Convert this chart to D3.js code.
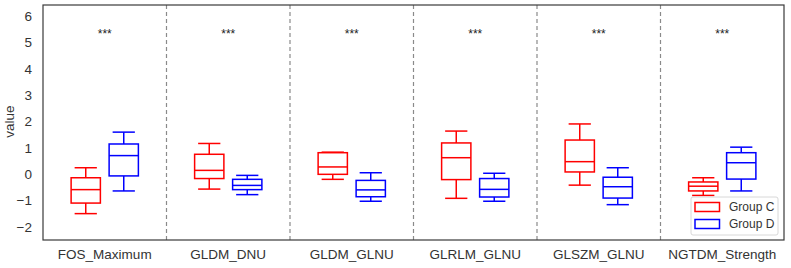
<!DOCTYPE html>
<html>
<head>
<meta charset="utf-8">
<script src="https://cdn.jsdelivr.net/npm/d3@7"></script>
<style>
    body { margin: 0; background: #fff; }
    text { font-family: "Liberation Sans", Arial, sans-serif; }
</style>
</head>
<body>
<div id="chart"></div>
<script>
var features = ['FOS_Maximum', 'GLDM_DNU', 'GLDM_GLNU', 'GLRLM_GLNU', 'GLSZM_GLNU', 'NGTDM_Strength'];
var groups = ['Group C', 'Group D'];
var groupColors = ['#ff0000', '#0000ff'];

// [whisker low, Q1, median, Q3, whisker high]
var groupC = [
    [-1.49, -1.09, -0.58, -0.13, 0.25],
    [-0.56, -0.16, 0.15, 0.76, 1.17],
    [-0.19, 0.00, 0.28, 0.82, 0.84],
    [-0.91, -0.20, 0.63, 1.19, 1.64],
    [-0.41, 0.09, 0.48, 1.30, 1.91],
    [-0.80, -0.63, -0.45, -0.29, -0.13]
];
var groupD = [
    [-0.63, -0.06, 0.71, 1.15, 1.60],
    [-0.77, -0.58, -0.42, -0.19, -0.04],
    [-1.02, -0.85, -0.59, -0.23, 0.06],
    [-1.02, -0.86, -0.57, -0.16, 0.04],
    [-1.15, -0.90, -0.47, -0.11, 0.25],
    [-0.63, -0.18, 0.44, 0.82, 1.03]
];
var stars = ['***', '***', '***', '***', '***', '***'];
var starY = 5.15;
var yTicks = [-2, -1, 0, 1, 2, 3, 4, 5, 6];

var margin = {top: 5, right: 7, bottom: 28, left: 43},
    width = 791 - margin.left - margin.right,
    height = 268 - margin.top - margin.bottom;

var svg = d3.select('#chart')
    .append('svg')
    .attr('width', 791)
    .attr('height', 268)
    .append('g')
    .attr('transform', 'translate(' + margin.left + ',' + margin.top + ')');

var x = d3.scaleBand().domain(features).range([0, width]);
var y = d3.scaleLinear().domain([-2.49, 6.42]).range([height, 0]);

var sub = d3.scaleBand().domain(groups).range([0, x.bandwidth()]).paddingInner(0.23).paddingOuter(0.74);

// dashed dividers between features
svg.selectAll('.divider')
    .data(features.slice(1))
    .enter()
    .append('line')
    .attr('x1', function (d) { return x(d); })
    .attr('x2', function (d) { return x(d); })
    .attr('y1', 0)
    .attr('y2', height)
    .attr('stroke', '#8a8a8a')
    .attr('stroke-width', 1.2)
    .attr('stroke-dasharray', '4,3');

var boxW = sub.bandwidth();
var capW = boxW * 0.38;

function drawBoxes(data, gi) {
    var color = groupColors[gi];
    var g = svg.selectAll('.box' + gi)
        .data(data)
        .enter()
        .append('g')
        .attr('transform', function (d, i) {
            return 'translate(' + (x(features[i]) + sub(groups[gi])) + ',0)';
        });
    var cx = boxW / 2;
    g.append('line')
        .attr('x1', cx).attr('x2', cx)
        .attr('y1', function (d) { return y(d[0]); })
        .attr('y2', function (d) { return y(d[1]); });
    g.append('line')
        .attr('x1', cx).attr('x2', cx)
        .attr('y1', function (d) { return y(d[3]); })
        .attr('y2', function (d) { return y(d[4]); });
    g.append('line')
        .attr('x1', cx - capW).attr('x2', cx + capW)
        .attr('y1', function (d) { return y(d[0]); })
        .attr('y2', function (d) { return y(d[0]); });
    g.append('line')
        .attr('x1', cx - capW).attr('x2', cx + capW)
        .attr('y1', function (d) { return y(d[4]); })
        .attr('y2', function (d) { return y(d[4]); });
    g.append('rect')
        .attr('x', 0)
        .attr('width', boxW)
        .attr('y', function (d) { return y(d[3]); })
        .attr('height', function (d) { return y(d[1]) - y(d[3]); })
        .attr('fill', 'none');
    g.append('line')
        .attr('x1', 0).attr('x2', boxW)
        .attr('y1', function (d) { return y(d[2]); })
        .attr('y2', function (d) { return y(d[2]); });
    g.selectAll('line, rect')
        .attr('stroke', color)
        .attr('stroke-width', 1.5);
}
drawBoxes(groupC, 0);
drawBoxes(groupD, 1);

// significance stars
svg.selectAll('.star')
    .data(stars)
    .enter()
    .append('text')
    .attr('x', function (d, i) { return x(features[i]) + x.bandwidth() / 2; })
    .attr('y', y(starY))
    .attr('text-anchor', 'middle')
    .style('font-size', '12px')
    .attr('fill', '#222')
    .text(function (d) { return d; });

// frame
svg.append('rect')
    .attr('width', width)
    .attr('height', height)
    .attr('fill', 'none')
    .attr('stroke', '#3a3a3a')
    .attr('stroke-width', 1.2);

// Y axis labels
svg.selectAll('.ytick')
    .data(yTicks)
    .enter()
    .append('text')
    .attr('x', -11)
    .attr('y', function (d) { return y(d); })
    .attr('dy', '0.35em')
    .attr('text-anchor', 'end')
    .style('font-size', '13.5px')
    .attr('fill', '#333')
    .text(function (d) { return d < 0 ? '\u2212' + Math.abs(d) : d; });

// X axis labels
svg.selectAll('.xtick')
    .data(features)
    .enter()
    .append('text')
    .attr('x', function (d) { return x(d) + x.bandwidth() / 2; })
    .attr('y', height + 19)
    .attr('text-anchor', 'middle')
    .style('font-size', '13.5px')
    .attr('fill', '#333')
    .text(function (d) { return d; });

svg.append('text')
    .attr('transform', 'rotate(-90)')
    .attr('x', -(y(2.0)))
    .attr('y', -29)
    .attr('text-anchor', 'middle')
    .style('font-size', '13.5px')
    .attr('fill', '#333')
    .text('value');

// legend
var legend = svg.append('g')
    .attr('transform', 'translate(' + (width - 93) + ',' + (height - 43) + ')');
legend.append('rect')
    .attr('width', 87)
    .attr('height', 38)
    .attr('rx', 2)
    .attr('fill', '#fff')
    .attr('fill-opacity', 0.85)
    .attr('stroke', '#d8d8d8');
groups.forEach(function (gName, i) {
    legend.append('rect')
        .attr('x', 4)
        .attr('y', 5.5 + i * 17)
        .attr('width', 24.5)
        .attr('height', 9)
        .attr('fill', 'none')
        .attr('stroke', groupColors[i])
        .attr('stroke-width', 1.5);
    legend.append('text')
        .attr('x', 38)
        .attr('y', 10 + i * 17)
        .attr('dy', '0.35em')
        .style('font-size', '12px')
        .attr('fill', '#333')
        .text(gName);
});
</script>
</body>
</html>
